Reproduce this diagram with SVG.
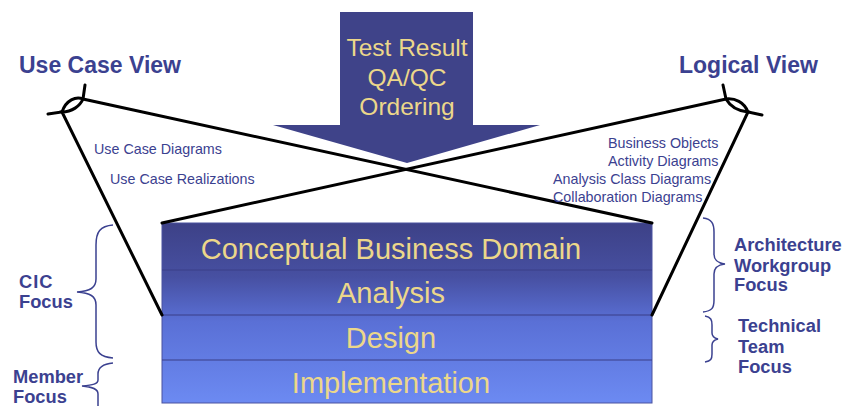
<svg xmlns="http://www.w3.org/2000/svg" width="847" height="406" viewBox="0 0 847 406">
<defs>
<linearGradient id="stackGrad" x1="0" y1="0" x2="0" y2="1">
<stop offset="0" stop-color="#3d4187"/>
<stop offset="0.3" stop-color="#4750a2"/>
<stop offset="0.55" stop-color="#5a70d6"/>
<stop offset="1" stop-color="#6c8af2"/>
</linearGradient>
<style>
.title{font-family:"Liberation Sans",Arial,sans-serif;font-weight:bold;font-size:23px;fill:#3b4190}
.small{font-family:"Liberation Sans",Arial,sans-serif;font-size:14.3px;fill:#3b4190}
.focus{font-family:"Liberation Sans",Arial,sans-serif;font-weight:bold;font-size:18.3px;fill:#3b4190}
.arrowtxt{font-family:"Liberation Sans",Arial,sans-serif;font-size:24.5px;fill:#ecd78a;text-anchor:middle}
.layertxt{font-family:"Liberation Sans",Arial,sans-serif;font-size:29px;fill:#ecd78a;text-anchor:middle}
.brace{fill:none;stroke:#3b4190;stroke-width:1.5}
.conn{fill:none;stroke:#000;stroke-width:3;stroke-linecap:round}
.sep{stroke:#3a3f88;stroke-width:1.2}
</style>
</defs>
<rect width="847" height="406" fill="#fff"/>

<g id="arrow">
<path d="M340,12 L473,12 L473,125 L540,125 L407,163 L273,125 L340,125 Z" fill="#3f4389"/>
<text class="arrowtxt" x="407" y="56">Test Result</text>
<text class="arrowtxt" x="407" y="86">QA/QC</text>
<text class="arrowtxt" x="407" y="115">Ordering</text>
</g>

<g id="stack">
<rect x="162" y="223" width="490" height="180" fill="url(#stackGrad)" stroke="#4a52a0" stroke-width="1"/>
<line class="sep" x1="162" y1="270" x2="652" y2="270"/>
<line class="sep" x1="162" y1="315" x2="652" y2="315"/>
<line class="sep" x1="162" y1="360" x2="652" y2="360"/>
<text class="layertxt" x="391" y="259">Conceptual Business Domain</text>
<text class="layertxt" x="391" y="303">Analysis</text>
<text class="layertxt" x="391" y="348">Design</text>
<text class="layertxt" x="391" y="393">Implementation</text>
</g>

<g id="connectors">
<path class="conn" d="M48,114 L62,112 C66,100 76,96 83,99 L652,223"/>
<path class="conn" d="M85,85 L83,99 C80,106 72,112 62,112 L162,315"/>
<path class="conn" d="M762,115 L748,112 C744,102 735,98 726,99 L162,223"/>
<path class="conn" d="M723,85 L726,99 C730,106 738,111 748,112 L652,315"/>
</g>

<g id="use-case-view">
<text class="title" x="19" y="73">Use Case View</text>
<text class="small" x="94" y="154">Use Case Diagrams</text>
<text class="small" x="110" y="184">Use Case Realizations</text>
</g>

<g id="logical-view">
<text class="title" x="679" y="73">Logical View</text>
<text class="small" x="608" y="148">Business Objects</text>
<text class="small" x="608" y="166">Activity Diagrams</text>
<text class="small" x="553" y="184">Analysis Class Diagrams</text>
<text class="small" x="553" y="202">Collaboration Diagrams</text>
</g>

<g id="cic-focus">
<path class="brace" d="M113,225 C100,226 96,232 96,245 L96,279 C96,288 90,291 77,292 C90,293 96,296 96,305 L96,342 C96,352 100,357 113,358"/>
<text class="focus" x="19" y="288" letter-spacing="1">CIC</text>
<text class="focus" x="19" y="308">Focus</text>
</g>

<g id="member-focus">
<path class="brace" d="M113,363 C102,364 98,368 98,374 L98,380 C98,384 93,385 82,386 C93,387 98,389 98,394 L98,406"/>
<text class="focus" x="13" y="383">Member</text>
<text class="focus" x="13" y="403">Focus</text>
</g>

<g id="architecture-focus">
<path class="brace" d="M703,218 C712,219 714,224 714,232 L714,254 C714,260 717,263 725,264 C717,265 714,268 714,274 L714,300 C714,308 712,311 703,312"/>
<text class="focus" x="734" y="251">Architecture</text>
<text class="focus" x="734" y="272">Workgroup</text>
<text class="focus" x="734" y="291">Focus</text>
</g>

<g id="technical-focus">
<path class="brace" d="M705,316 C711,317 712,320 712,325 L712,333 C712,336 714,338 718,339 C714,340 712,342 712,345 L712,354 C712,359 711,361 705,362"/>
<text class="focus" x="738" y="332">Technical</text>
<text class="focus" x="738" y="353">Team</text>
<text class="focus" x="738" y="373">Focus</text>
</g>
</svg>
